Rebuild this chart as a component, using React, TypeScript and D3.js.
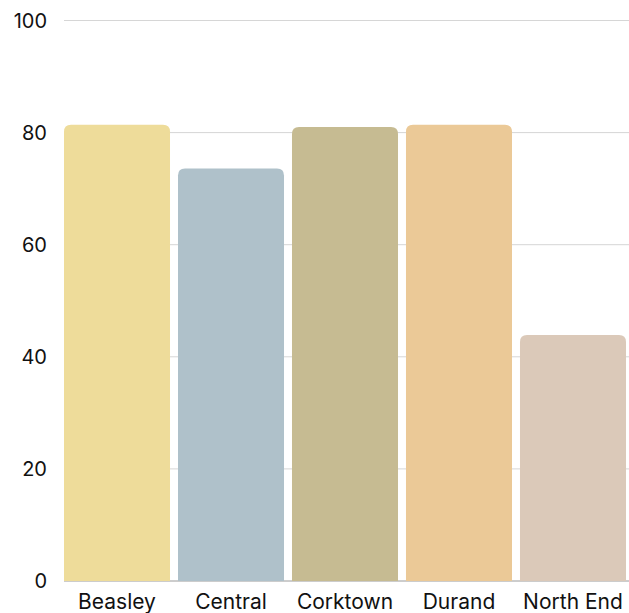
import { scaleBand, scaleLinear } from 'd3';

const neighbourhoods = ['Beasley', 'Central', 'Corktown', 'Durand', 'North End'];
const values = [81.4, 73.6, 81.0, 81.4, 43.9];
const colors = ['#eedc9a', '#afc1ca', '#c6bb92', '#ebc997', '#dbc9b9'];
const yTicks = [0, 20, 40, 60, 80, 100];

const width = 629;
const height = 613;
const margin = { top: 20.5, right: 3, bottom: 32, left: 64 };
const radius = 7;

function barPath(x: number, y: number, w: number, h: number, r: number) {
  return `M${x},${y + h}V${y + r}Q${x},${y} ${x + r},${y}H${x + w - r}Q${x + w},${y} ${x + w},${y + r}V${y + h}Z`;
}

function App() {
  const innerHeight = height - margin.top - margin.bottom;

  const xScale = scaleBand()
    .domain(neighbourhoods)
    .range([margin.left, width - margin.right])
    .paddingInner(0.07)
    .paddingOuter(0);

  const yScale = scaleLinear()
    .domain([0, 100])
    .range([margin.top + innerHeight, margin.top]);

  return (
    <svg
      width={width}
      height={height}
      style={{ position: 'absolute', left: 0, top: 0 }}
      fontFamily="Inter, Lato, sans-serif"
      fontWeight={400}
    >
      {yTicks.map(t => (
        <g key={t}>
          {t > 0 && (
            <line x1={margin.left} x2={width} y1={yScale(t)} y2={yScale(t)} stroke="#d6d6d6" strokeWidth={1} />
          )}
          <text x={47} y={yScale(t)} dy=".36em" textAnchor="end" fontSize={20} fill="#111">
            {t}
          </text>
        </g>
      ))}
      <line x1={margin.left} x2={width} y1={yScale(0)} y2={yScale(0)} stroke="#9a9a9a" strokeWidth={1} />
      {neighbourhoods.map((n, i) => {
        const x = xScale(n) as number;
        const y = yScale(values[i]);
        return (
          <path
            key={n}
            d={barPath(x, y, xScale.bandwidth(), yScale(0) - y, radius)}
            fill={colors[i]}
          />
        );
      })}
      {neighbourhoods.map(n => (
        <text
          key={n}
          x={(xScale(n) as number) + xScale.bandwidth() / 2}
          y={609}
          textAnchor="middle"
          fontSize={21}
          fill="#111"
        >
          {n}
        </text>
      ))}
    </svg>
  );
}

export default App;
